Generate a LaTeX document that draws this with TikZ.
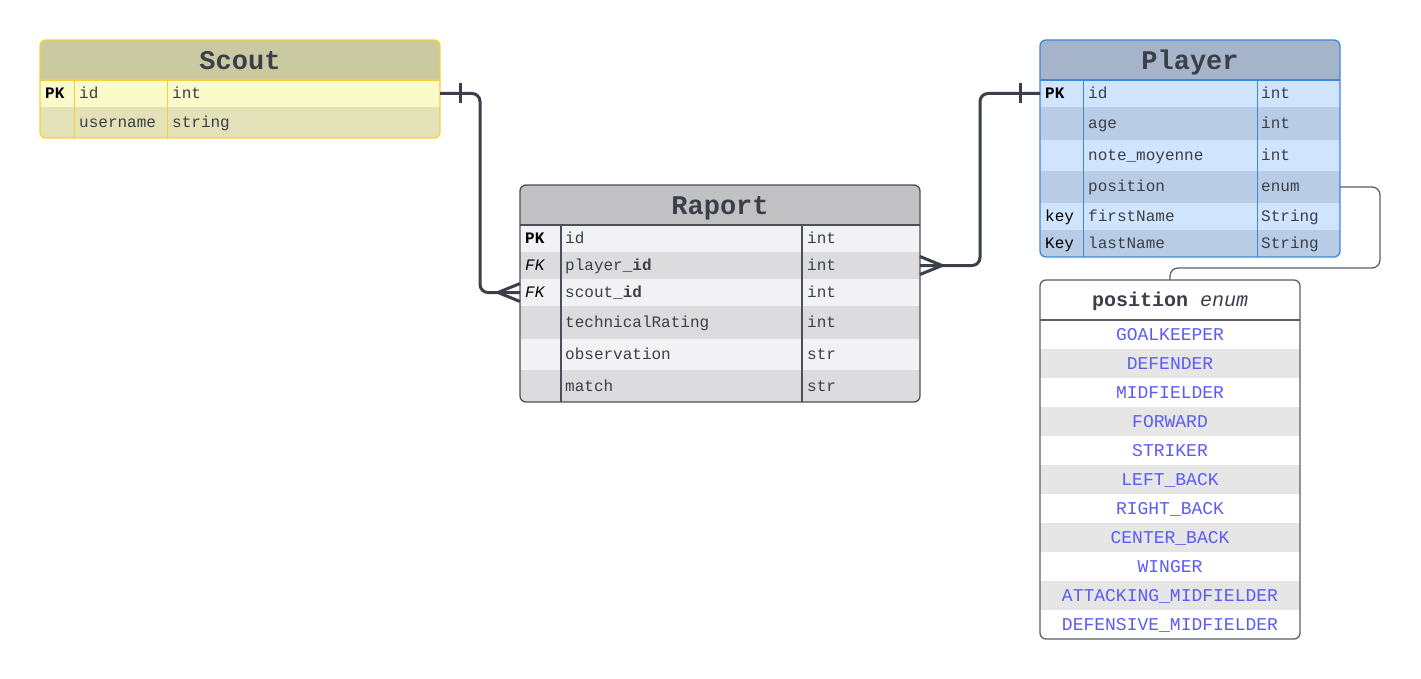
\documentclass[tikz,border=0pt]{standalone}
\usepackage{fontspec}
\setmainfont{Liberation Sans}
\setmonofont{Liberation Mono}
\definecolor{ink}{HTML}{3A3F4A}
\definecolor{scouthead}{HTML}{C9C9A2}
\definecolor{scoutA}{HTML}{FBFAC9}
\definecolor{scoutB}{HTML}{E3E1B7}
\definecolor{scoutline}{HTML}{F4CF3A}
\definecolor{raphead}{HTML}{C1C1C3}
\definecolor{rapA}{HTML}{F2F2F4}
\definecolor{rapB}{HTML}{DCDCDE}
\definecolor{rapline}{HTML}{4A4F5A}
\definecolor{plahead}{HTML}{A6B4CA}
\definecolor{plaA}{HTML}{D0E4FD}
\definecolor{plaB}{HTML}{B8CCE6}
\definecolor{plaline}{HTML}{3B87E0}
\definecolor{enumB}{HTML}{E6E6E6}
\definecolor{enumtxt}{HTML}{5C5CF5}
\definecolor{enumline}{HTML}{5A5E66}

\begin{document}
\begin{tikzpicture}[x=1pt,y=-1pt,
    rowbox/.style = {anchor=north west, inner sep=0, outer sep=0},
    tblframe/.style = {rowbox, line width=1.3, rounded corners=6},
    tbltitle/.style = {font=\ttfamily\bfseries\fontsize{27}{30}\selectfont, text=ink, text height=22, text depth=3.4},
    keytxt/.style = {anchor=west, inner sep=0, text height=12, text depth=2, font=\ttfamily\fontsize{16}{18}\selectfont, text=black},
    fldtxt/.style = {keytxt, text=ink},
    enumval/.style = {inner sep=0, text height=14, text depth=1.6, font=\ttfamily\fontsize{18}{20}\selectfont, text=enumtxt},
    link/.style = {line width=3, draw=ink, rounded corners=8},
    thinlink/.style = {line width=1.3, draw=enumline, rounded corners=8}
  ]
  \useasboundingbox[fill=white] (0,0) rectangle (1421,679);

  % Scout
  \begin{scope}
    \clip[rounded corners=6] (40,40) rectangle (440,138);
    \node[rowbox, tbltitle, minimum width=400, minimum height=40, fill=scouthead] (S0) at (40,40) {Scout};
    \foreach \k/\f/\t/\h [count=\i, evaluate={\ybot=\ytop+\h;}, remember=\ybot as \ytop (initially 80)]
    in {\textbf{PK}/id/int/27, /username/string/31}{ % loop over rows
        \ifodd\i \def\rowcol{scoutA}\else \def\rowcol{scoutB}\fi
        \node[rowbox, minimum width=400, minimum height=\h, fill=\rowcol] (S\i) at (40,\ytop) {};
        \node[keytxt] (S\i-k) at ([xshift=5]S\i.west) {\k};
        \node[fldtxt] (S\i-f) at ([xshift=39]S\i.west) {\f};
        \node[fldtxt] (S\i-t) at ([xshift=132]S\i.west) {\t};
      }
  \end{scope}
  \draw[scoutline, line width=1.3] (S0.south west) -- (S0.south east)
    ([xshift=34.5]S1.north west) -- ([xshift=34.5]S2.south west)
    ([xshift=127.5]S1.north west) -- ([xshift=127.5]S2.south west);
  \node[tblframe, draw=scoutline, minimum width=400, minimum height=98] (scout) at (40,40) {};

  % Raport
  \begin{scope}
    \clip[rounded corners=6] (520,185) rectangle (920,402);
    \node[rowbox, tbltitle, minimum width=400, minimum height=40, fill=raphead] (R0) at (520,185) {Raport};
    \foreach \k/\f/\t/\h [count=\i, evaluate={\ybot=\ytop+\h;}, remember=\ybot as \ytop (initially 225)]
    in {\textbf{PK}/id/int/27, \textit{FK}/player\_\textbf{id}/int/27, \textit{FK}/scout\_\textbf{id}/int/27,
        /technicalRating/int/33, /observation/str/31, /match/str/32}{ % loop over rows
        \ifodd\i \def\rowcol{rapA}\else \def\rowcol{rapB}\fi
        \node[rowbox, minimum width=400, minimum height=\h, fill=\rowcol] (R\i) at (520,\ytop) {};
        \node[keytxt] (R\i-k) at ([xshift=5]R\i.west) {\k};
        \node[fldtxt] (R\i-f) at ([xshift=45]R\i.west) {\f};
        \node[fldtxt] (R\i-t) at ([xshift=287]R\i.west) {\t};
      }
  \end{scope}
  \draw[rapline, line width=1.3] (R0.south west) -- (R0.south east)
    ([xshift=41]R1.north west) -- ([xshift=41]R6.south west)
    ([xshift=282]R1.north west) -- ([xshift=282]R6.south west);
  \node[tblframe, draw=rapline, minimum width=400, minimum height=217] (raport) at (520,185) {};

  % Player
  \begin{scope}
    \clip[rounded corners=6] (1040,40) rectangle (1340,257);
    \node[rowbox, tbltitle, minimum width=300, minimum height=40, fill=plahead] (P0) at (1040,40) {Player};
    \foreach \k/\f/\t/\h [count=\i, evaluate={\ybot=\ytop+\h;}, remember=\ybot as \ytop (initially 80)]
    in {\textbf{PK}/id/int/27, /age/int/33, /note\_moyenne/int/31, /position/enum/32,
        key/firstName/String/27, Key/lastName/String/27}{ % loop over rows
        \ifodd\i \def\rowcol{plaA}\else \def\rowcol{plaB}\fi
        \node[rowbox, minimum width=300, minimum height=\h, fill=\rowcol] (P\i) at (1040,\ytop) {};
        \node[keytxt] (P\i-k) at ([xshift=5]P\i.west) {\k};
        \node[fldtxt] (P\i-f) at ([xshift=48]P\i.west) {\f};
        \node[fldtxt] (P\i-t) at ([xshift=221]P\i.west) {\t};
      }
  \end{scope}
  \draw[plaline, line width=1.3] (P0.south west) -- (P0.south east)
    ([xshift=43.5]P1.north west) -- ([xshift=43.5]P6.south west)
    ([xshift=217.5]P1.north west) -- ([xshift=217.5]P6.south west);
  \node[tblframe, draw=plaline, minimum width=300, minimum height=217] (player) at (1040,40) {};

  % position enum
  \begin{scope}
    \clip[rounded corners=6] (1040,280) rectangle (1300,639);
    \node[rowbox, minimum width=260, minimum height=40, fill=white, text=ink, text height=14, text depth=2,
      font=\ttfamily\fontsize{20}{22}\selectfont] (E0) at (1040,280) {\textbf{position} \textit{enum}};
    \foreach \v [count=\i, evaluate={\ytop=291+29*\i;}]
    in {GOALKEEPER, DEFENDER, MIDFIELDER, FORWARD, STRIKER, LEFT\_BACK, RIGHT\_BACK,
        CENTER\_BACK, WINGER, ATTACKING\_MIDFIELDER, DEFENSIVE\_MIDFIELDER}{ % loop over values
        \ifodd\i \def\rowcol{white}\else \def\rowcol{enumB}\fi
        \node[rowbox, minimum width=260, minimum height=29, fill=\rowcol] (E\i) at (1040,\ytop) {};
        \node[enumval] (E\i-v) at (E\i.center) {\v};
      }
  \end{scope}
  \draw[enumline, line width=1.3] (E0.south west) -- (E0.south east);
  \node[tblframe, draw=enumline, minimum width=260, minimum height=359] (enum) at (1040,280) {};

  % relations
  \draw[link] (S1.east) -- ++(40,0) |- (R3.west);
  \draw[link, rounded corners=0] ([xshift=20]S1.east) ++(0,-10) -- ++(0,20);
  \draw[link, rounded corners=0] ([yshift=9]R3.west) -- ([xshift=-22]R3.west) -- ([yshift=-9]R3.west);
  \draw[link] (R2.east) -- ++(60,0) |- (P1.west);
  \draw[link, rounded corners=0] ([xshift=-20]P1.west) ++(0,-10) -- ++(0,20);
  \draw[link, rounded corners=0] ([yshift=9]R2.east) -- ([xshift=22]R2.east) -- ([yshift=-9]R2.east);
  \draw[thinlink] (P4.east) -- ++(40,0) -- ++(0,81) -| (E0.north);

\end{tikzpicture}
\end{document}
